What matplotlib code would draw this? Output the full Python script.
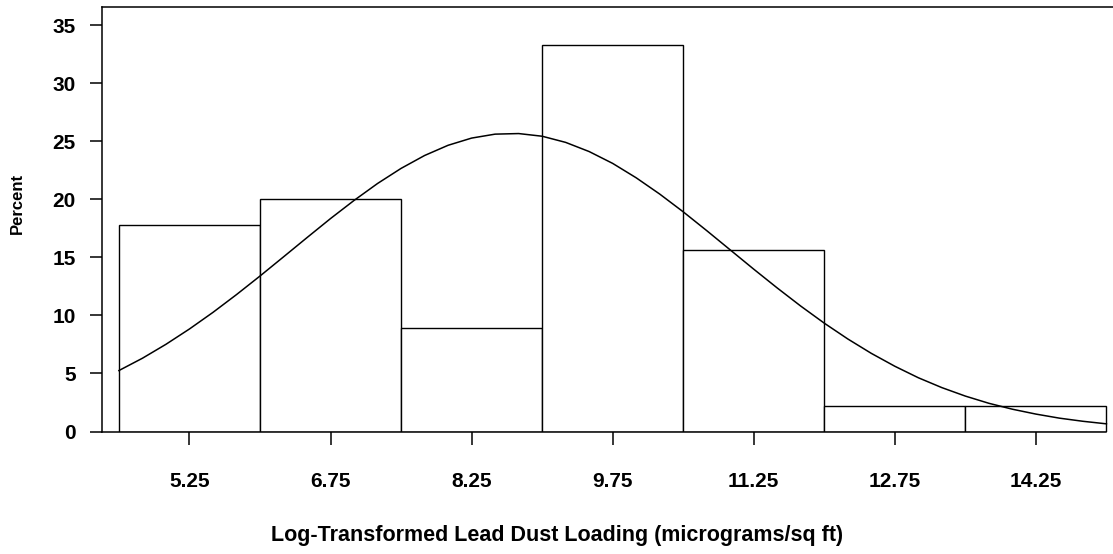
import matplotlib
matplotlib.use("Agg")
import matplotlib.pyplot as plt

plt.rcParams['font.family'] = ['Liberation Sans', 'DejaVu Sans']
plt.rcParams['font.weight'] = 'bold'

# histogram bins (width 1.5), midpoints labelled
bin_edges = [4.5, 6.0, 7.5, 9.0, 10.5, 12.0, 13.5, 15.0]
bin_mids = [5.25, 6.75, 8.25, 9.75, 11.25, 12.75, 14.25]
percent = [17.8, 20.0, 8.9, 33.3, 15.6, 2.2, 2.2]
tick_labels = ['5.25', '6.75', '8.25', '9.75', '11.25', '12.75', '14.25']

# fitted normal curve
curve_x = [4.5, 4.75, 5.0, 5.25, 5.5, 5.75, 6.0, 6.25, 6.5, 6.75, 7.0, 7.25,
           7.5, 7.75, 8.0, 8.25, 8.5, 8.75, 9.0, 9.25, 9.5, 9.75, 10.0, 10.25,
           10.5, 10.75, 11.0, 11.25, 11.5, 11.75, 12.0, 12.25, 12.5, 12.75,
           13.0, 13.25, 13.5, 13.75, 14.0, 14.25, 14.5, 14.75, 15.0]
curve_y = [5.25, 6.31, 7.51, 8.83, 10.26, 11.79, 13.39, 15.04, 16.70, 18.34,
           19.90, 21.36, 22.66, 23.77, 24.65, 25.27, 25.61, 25.66, 25.43, 24.90,
           24.11, 23.09, 21.85, 20.45, 18.92, 17.30, 15.64, 13.98, 12.36, 10.80,
           9.33, 7.97, 6.73, 5.62, 4.63, 3.78, 3.05, 2.43, 1.92, 1.50, 1.15,
           0.88, 0.66]

fig = plt.figure(figsize=(11.13, 5.54), dpi=100)
ax = fig.add_axes([102 / 1113, 1 - 431.5 / 554, 1 - 102 / 1113, (431.5 - 7) / 554])

widths = [bin_edges[i + 1] - bin_edges[i] for i in range(len(percent))]
ax.bar(bin_edges[:-1], percent, width=widths, align='edge',
       facecolor='white', edgecolor='black', linewidth=1.0)
ax.plot(curve_x, curve_y, color='black', linewidth=1.1)

ax.set_xlim(4.32, 15.07)
ax.set_ylim(0, 36.56)
ax.spines['right'].set_visible(False)
ax.spines['bottom'].set_bounds(4.32, 15.0)
for s in ['left', 'bottom', 'top']:
    ax.spines[s].set_linewidth(1.1)

ax.set_xticks(bin_mids)
ax.set_xticklabels(tick_labels)
ax.set_yticks(range(0, 40, 5))
ax.tick_params(axis='x', length=9, width=1.1, pad=20, labelsize=15)
ax.tick_params(axis='y', length=9, width=1.1, pad=10, labelsize=15)

fig.text(17 / 1113, 1 - 203 / 554, 'Percent', rotation=90,
         ha='center', va='center', fontsize=12, fontweight='bold')
fig.text(557 / 1113, 1 - 536 / 554,
         'Log-Transformed Lead Dust Loading (micrograms/sq ft)',
         ha='center', va='center', fontsize=15.5, fontweight='bold')

fig.savefig('out.png', dpi=100)
